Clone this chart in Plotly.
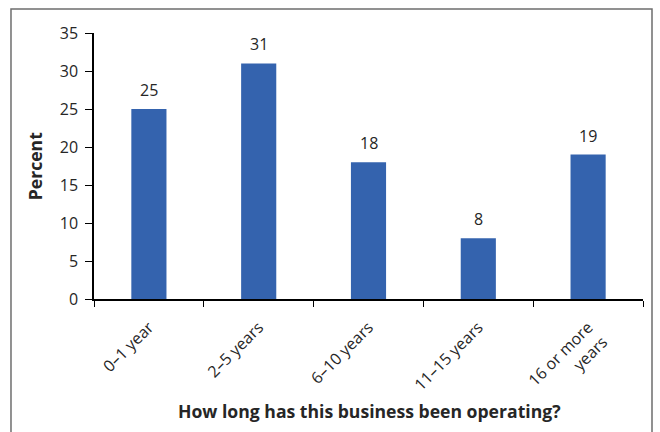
import plotly.graph_objects as go

# Survey results: age of business
categories = ["0–1 year", "2–5 years", "6–10 years", "11–15 years", "16 or more<br>years"]
percent = [25, 31, 18, 8, 19]
y_ticks = [0, 5, 10, 15, 20, 25, 30, 35]

BAR_COLOR = "#3463AE"
TEXT_COLOR = "#262626"
FONT = "'Open Sans', sans-serif"

fig = go.Figure()
fig.add_trace(go.Bar(
    x=categories,
    y=percent,
    marker=dict(color=BAR_COLOR, line=dict(width=0)),
    width=0.32,
    hoverinfo="skip",
))

# Value labels above each bar
for cat, val in zip(categories, percent):
    fig.add_annotation(
        x=cat, y=val, text=str(val), showarrow=False,
        yanchor="bottom", yshift=6,
        font=dict(family=FONT, size=16, color=TEXT_COLOR),
    )

# X axis title
fig.add_annotation(
    x=0.501, y=-0.42, xref="paper", yref="paper",
    text="<b>How long has this business been operating?</b>",
    showarrow=False, xanchor="center", yanchor="middle",
    font=dict(family=FONT, size=17.6, color=TEXT_COLOR),
)

# Y axis title
fig.add_annotation(
    x=-0.107, y=0.5, xref="paper", yref="paper",
    text="<b>Percent</b>", textangle=-90,
    showarrow=False, xanchor="center", yanchor="middle",
    font=dict(family=FONT, size=17.6, color=TEXT_COLOR),
)

# Outer frame
fig.add_shape(
    type="rect", xref="paper", yref="paper",
    x0=-0.1512, x1=1.0164, y0=-0.6, y1=1.0902,
    line=dict(color="#6e6e6e", width=1.5), fillcolor="rgba(0,0,0,0)",
    layer="below",
)

fig.update_layout(
    width=660, height=432,
    margin=dict(l=94, r=17, t=33, b=133),
    paper_bgcolor="white", plot_bgcolor="white",
    showlegend=False,
    font=dict(family=FONT, size=16, color=TEXT_COLOR),
    xaxis=dict(
        showline=True, linecolor="black", linewidth=1.5,
        ticks="outside", ticklen=6, tickcolor="black", tickwidth=1.2,
        tickson="boundaries",
        tickangle=-45,
        ticklabelstandoff=11,
        tickfont=dict(family=FONT, size=16, color=TEXT_COLOR),
        showgrid=False, zeroline=False,
        fixedrange=True,
    ),
    yaxis=dict(
        range=[0, 35], tickvals=y_ticks,
        showline=True, linecolor="black", linewidth=1.5,
        ticks="outside", ticklen=7, tickcolor="black", tickwidth=1.2,
        ticklabelstandoff=4,
        tickfont=dict(family=FONT, size=16, color=TEXT_COLOR),
        showgrid=False, zeroline=False,
        fixedrange=True,
    ),
)

fig.write_html("out.html")
